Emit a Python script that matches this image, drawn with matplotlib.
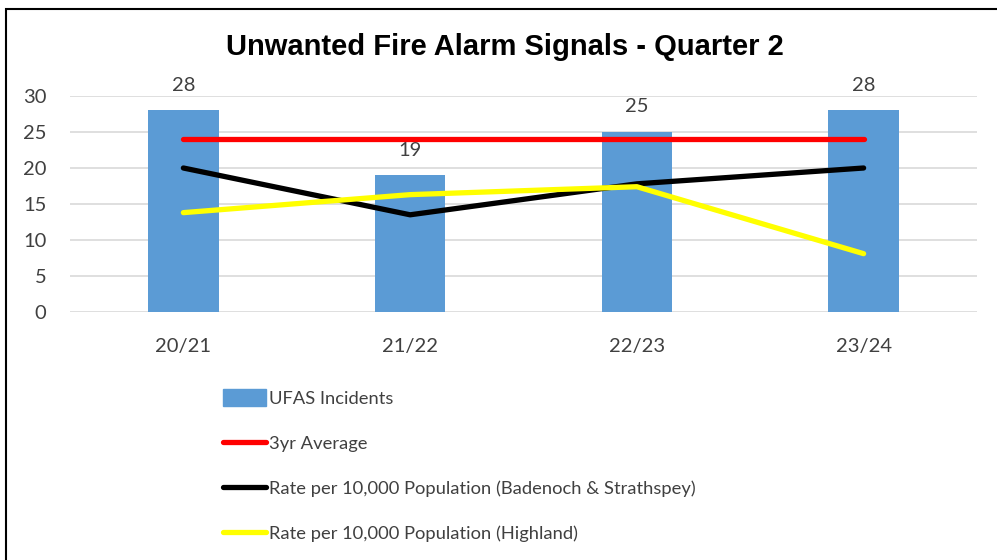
import numpy as np
import matplotlib.pyplot as plt
from matplotlib.patches import Rectangle
from matplotlib.lines import Line2D

years = ["20/21", "21/22", "22/23", "23/24"]
ufas = [28, 19, 25, 28]
avg3yr = [24, 24, 24, 24]
rate_bs = [20.0, 13.5, 17.8, 20.0]
rate_highland = [13.8, 16.3, 17.4, 8.1]

labels = ["UFAS Incidents", "3yr Average",
          "Rate per 10,000 Population (Badenoch & Strathspey)",
          "Rate per 10,000 Population (Highland)"]

body_font = ["Lato", "DejaVu Sans"]
txt_col = "#404040"

fig = plt.figure(figsize=(9.97, 5.6), dpi=100)
ax = fig.add_axes([70/997, 1-312/560, 907/997, 216/560])

x = np.arange(len(years))
bars = ax.bar(x, ufas, width=0.31, color="#5b9bd5", zorder=2)
for xi, v in zip(x, ufas):
    ax.text(xi, v + 3.5, str(v), ha="center", va="center", fontsize=14.5,
            color=txt_col, family=body_font)

ax.plot(x, avg3yr, color="#ff0000", lw=3.8, solid_capstyle="round", zorder=3)
ax.plot(x, rate_bs, color="#000000", lw=3.8, solid_capstyle="round",
        solid_joinstyle="round", zorder=3)
ax.plot(x, rate_highland, color="#ffff00", lw=3.8, solid_capstyle="round",
        solid_joinstyle="round", zorder=4)

ax.set_xlim(-0.5, 3.5)
ax.set_ylim(0, 30)
ax.set_yticks(range(0, 31, 5))
ax.set_xticks(x)
ax.set_xticklabels(years)
ax.grid(axis="y", color="#d9d9d9", lw=1.2, zorder=0)
ax.set_axisbelow(True)
for s in ax.spines.values():
    s.set_visible(False)
ax.tick_params(length=0, labelsize=14.5, labelcolor=txt_col)
ax.tick_params(axis="x", pad=19)
ax.tick_params(axis="y", pad=17)
for t in ax.get_xticklabels() + ax.get_yticklabels():
    t.set_family(body_font)

fig.text(505/997, 1-47/560, "Unwanted Fire Alarm Signals - Quarter 2",
         ha="center", va="center", fontsize=21, fontweight="bold",
         family=["Liberation Sans", "DejaVu Sans"])

handles = [Rectangle((0, 0), 1, 1, color="#5b9bd5"),
           Line2D([], [], color="#ff0000", lw=3.8, solid_capstyle="round"),
           Line2D([], [], color="#000000", lw=3.8, solid_capstyle="round"),
           Line2D([], [], color="#ffff00", lw=3.8, solid_capstyle="round")]
leg = fig.legend(handles, labels, loc="upper left",
                 bbox_to_anchor=(216/997, 1-382/560), frameon=False,
                 prop={"family": body_font, "size": 13.2},
                 handlelength=2.35, handleheight=1.0, handletextpad=0.15,
                 labelspacing=1.5, borderaxespad=0)
for t in leg.get_texts():
    t.set_color(txt_col)

fig.patches.append(Rectangle((6/997, -0.1), 1.2, 1.1 - 9/560,
                             transform=fig.transFigure, fill=False,
                             ec="black", lw=1.5))

fig.savefig("out.png", dpi=100)
